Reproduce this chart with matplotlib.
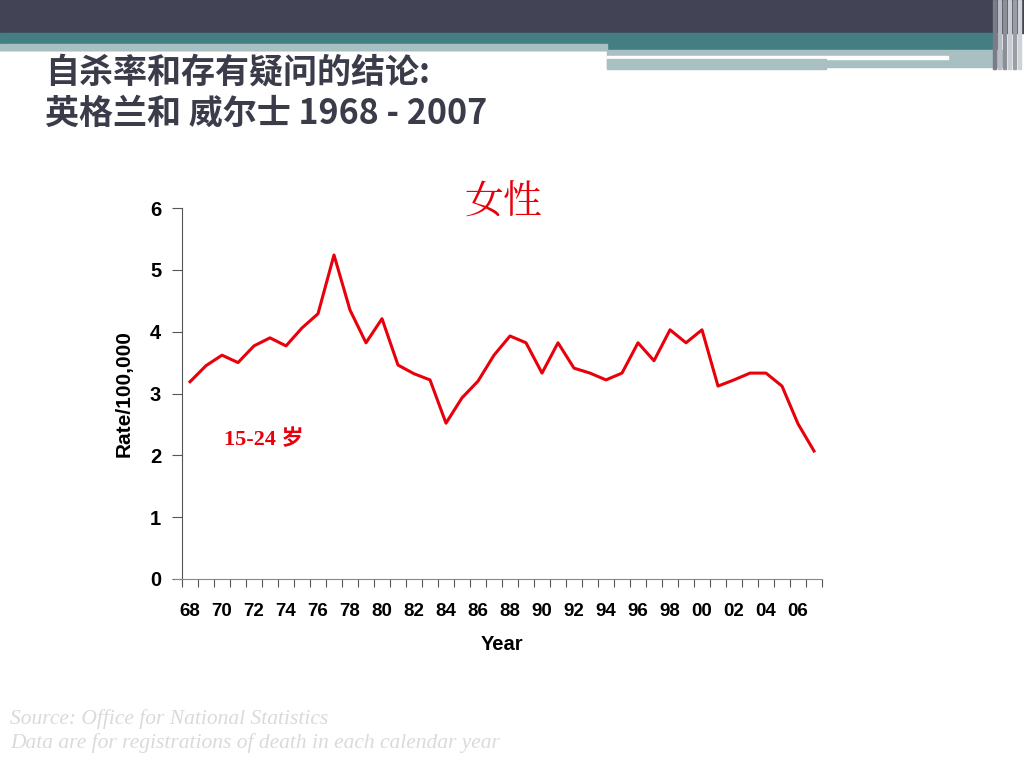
import matplotlib
matplotlib.use("Agg")
import matplotlib.pyplot as plt
from matplotlib.patches import Rectangle

# data: female suicide rate, age 15-24, England and Wales
years = list(range(1968, 2008))
rate = [3.19, 3.45, 3.62, 3.50, 3.77, 3.90, 3.77, 4.06, 4.29, 5.24,
        4.35, 3.82, 4.21, 3.46, 3.32, 3.22, 2.52, 2.93, 3.20, 3.62,
        3.93, 3.82, 3.33, 3.82, 3.41, 3.33, 3.22, 3.33, 3.82, 3.53,
        4.03, 3.82, 4.03, 3.12, 3.22, 3.33, 3.33, 3.12, 2.51, 2.07]
year_labels = [f"{y % 100:02d}" for y in years]

cjk = ['Noto Sans CJK SC', 'DejaVu Sans']
plt.rcParams['font.family'] = ['Liberation Sans', 'DejaVu Sans']

fig = plt.figure(figsize=(10.24, 7.68), dpi=100)

# slide header bands
W, H = 1024, 768
def band(x0, y0, x1, y1, color):
    fig.patches.append(Rectangle((x0 / W, 1 - y1 / H), (x1 - x0) / W, (y1 - y0) / H,
                                 transform=fig.transFigure, color=color, zorder=0))

band(0, 0, 1024, 33, '#424456')
band(0, 33, 1000, 50, '#427e82')
band(0, 44, 607, 50, '#a9c0c3')
band(607, 50, 1005, 67, '#a9c0c3')
band(607, 56, 948, 59, 'white')
band(607, 59, 826, 69, '#a9c0c3')
for x0, c in [(993, '#7a7c88'), (998, '#b8bcc4'), (1003, '#8c8e98'), (1008, '#c9ccd2'),
              (1013, '#9a9ca6'), (1018, '#d0d2d8')]:
    band(x0, 0, x0 + 3, 69, c)

fig.text(45 / W, 1 - 72 / H, '自杀率和存有疑问的结论:', family=cjk, fontsize=24.5,
         fontweight='bold', color='#3b3c4a', va='center', ha='left')
fig.text(45 / W, 1 - 113 / H, '英格兰和 威尔士 1968 - 2007', family=cjk, fontsize=24.5,
         fontweight='bold', color='#3b3c4a', va='center', ha='left')

ax = fig.add_axes([182 / W, 1 - 579 / H, 640 / W, 371 / H])
x = list(range(len(years)))
ax.plot(x, rate, color='#e8000b', linewidth=2.2)

ax.set_xlim(-0.5, len(years) - 0.5)
ax.set_ylim(0, 6)
ax.set_yticks(range(0, 7))
ax.set_xticks([i - 0.5 for i in range(len(years) + 1)], minor=False)
ax.set_xticklabels([])
ax.set_xticks(x[::2], minor=True)
ax.set_xticklabels(year_labels[::2], minor=True)
ax.tick_params(axis='x', which='minor', length=0, pad=17, labelsize=13.5)
ax.tick_params(axis='x', which='major', length=6, color='#555555', direction='out')
ax.tick_params(axis='y', length=7, color='#555555', labelsize=14.5, pad=8)
for lab in ax.get_xticklabels(minor=True) + ax.get_yticklabels():
    lab.set_fontweight('bold')
for s in ['top', 'right']:
    ax.spines[s].set_visible(False)
ax.spines['left'].set_color('#555555')
ax.spines['bottom'].set_color('#888888')
ax.spines['bottom'].set_bounds(-1.0, len(years) - 0.5)
ax.spines['bottom'].set_clip_on(False)

ax.set_xlabel('Year', fontsize=14.5, fontweight='bold', labelpad=11)
ax.set_ylabel('Rate/100,000', fontsize=15, fontweight='bold', labelpad=12)

fig.text(503 / W, 1 - 202 / H, '女性', family=['Noto Serif CJK SC', 'Noto Sans CJK SC'],
         fontsize=28, color='#e8000b', ha='center', va='center')
fig.text(224 / W, 1 - 440 / H, '15-24 岁', family=['Liberation Serif', 'Noto Sans CJK SC'],
         fontsize=16, fontweight='bold', color='#e8000b', ha='left', va='center')

fig.text(10 / W, 1 - 719 / H, 'Source: Office for National Statistics',
         family='Liberation Serif', style='italic', fontsize=15.5, color='#dadada', va='center')
fig.text(10 / W, 1 - 743 / H, 'Data are for registrations of death in each calendar year',
         family='Liberation Serif', style='italic', fontsize=15.5, color='#dadada', va='center')

fig.savefig('out.png', dpi=100)
